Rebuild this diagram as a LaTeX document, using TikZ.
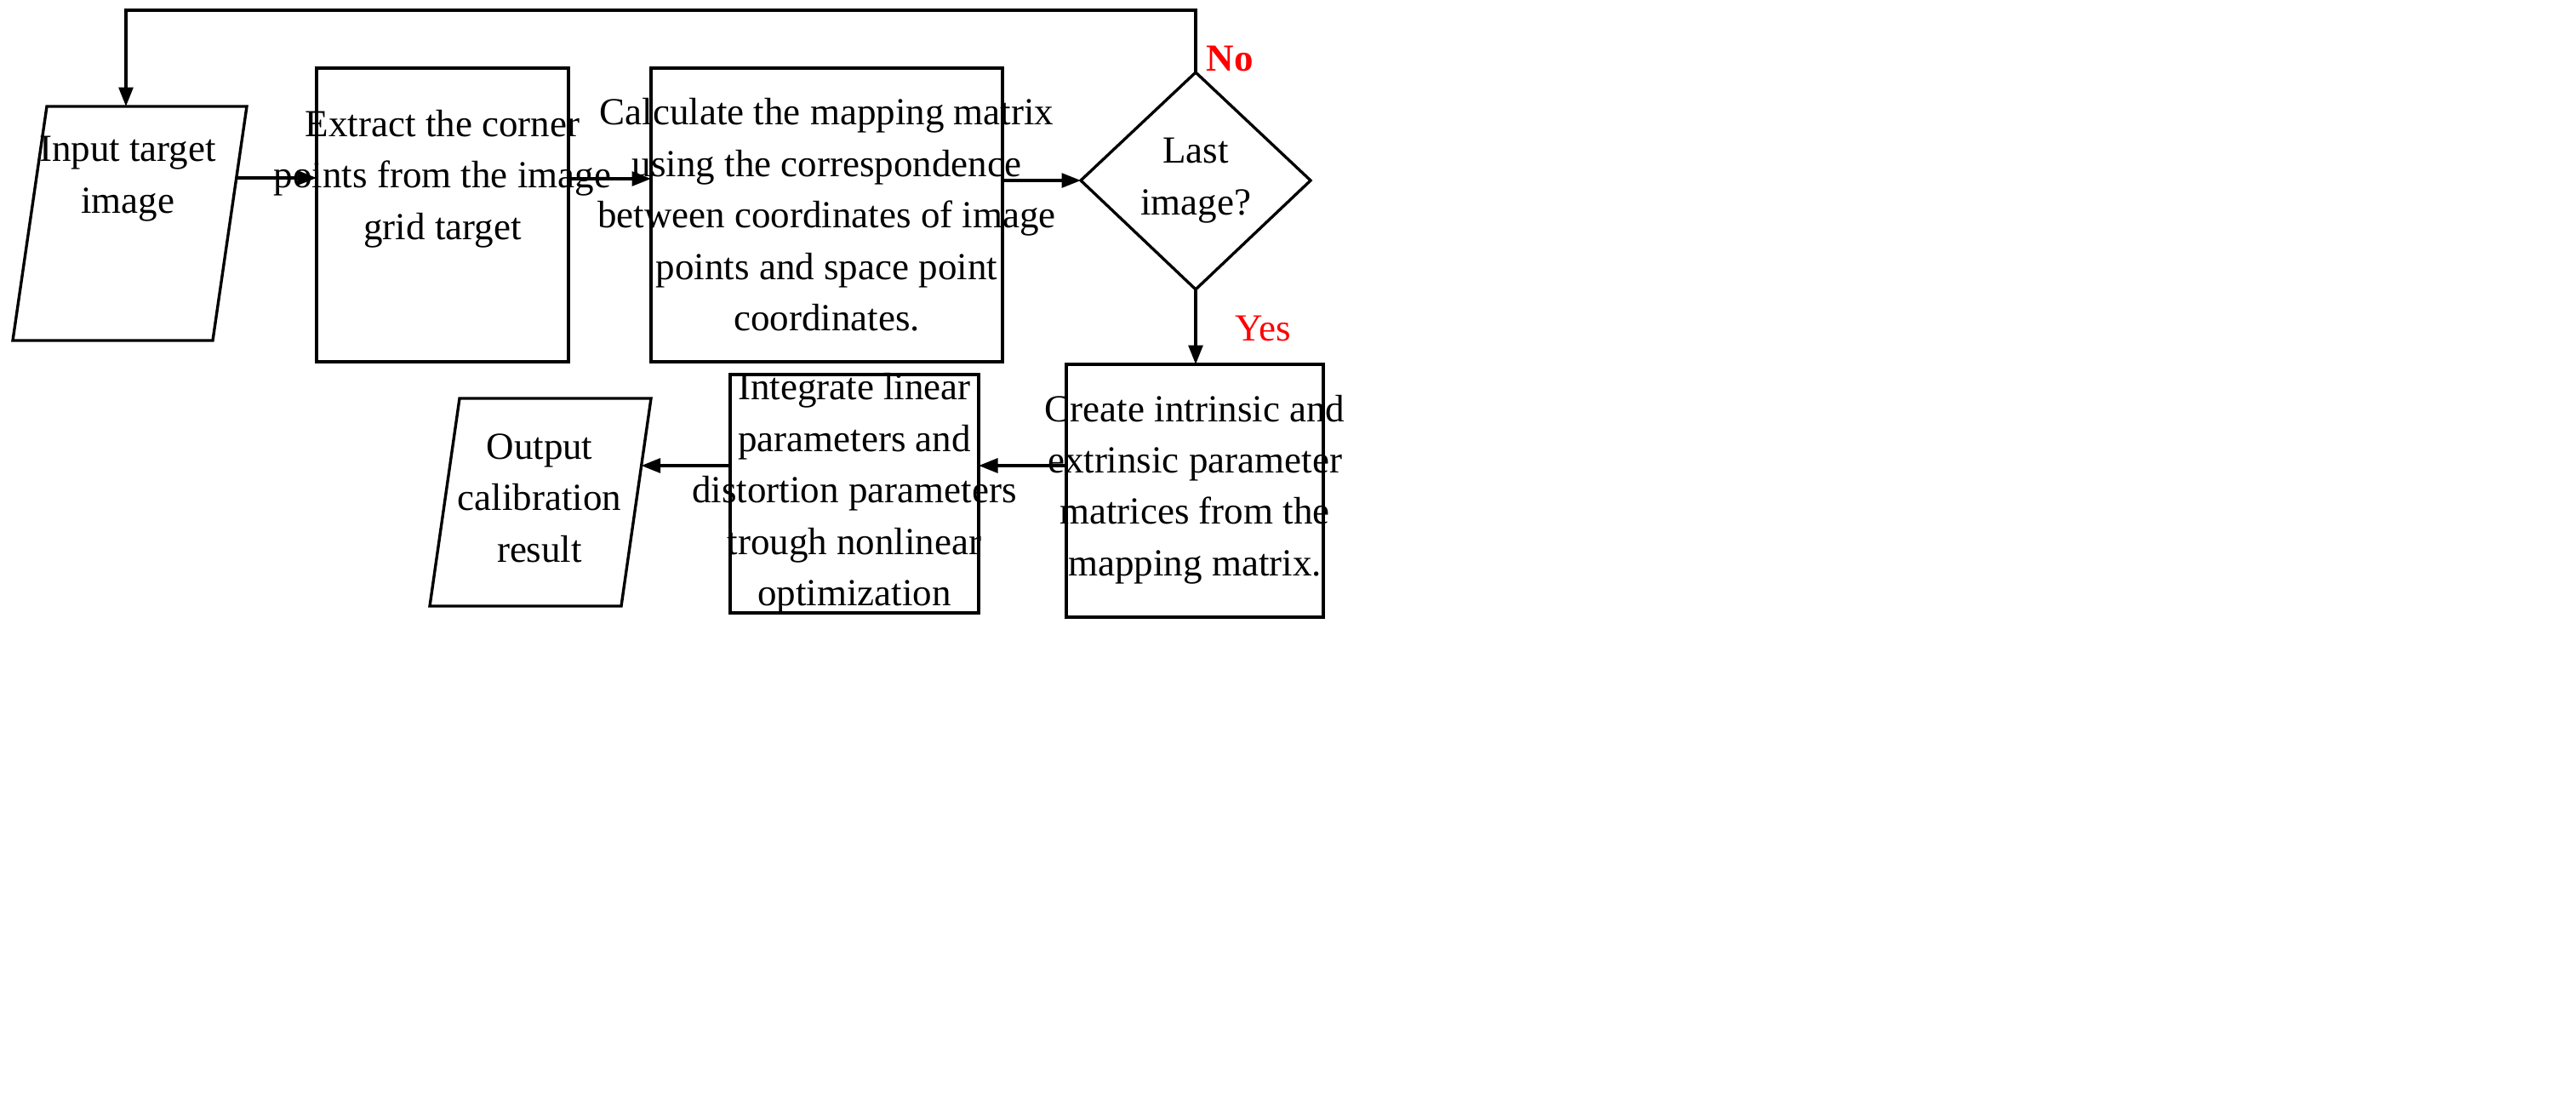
\documentclass[tikz,border=0pt]{standalone}
\usepackage{fontspec}
\setmainfont{Liberation Serif}
\usetikzlibrary{shapes.geometric,arrows.meta}
\begin{document}
\begin{tikzpicture}[x=0.125mm,y=-0.125mm,
  line width=2.4pt,
  txt/.style={font=\fontsize{32}{43}\selectfont,align=center},
  arr/.style={-{Triangle[length=16pt,width=12pt]}},
  lab/.style={font=\fontsize{32}{40}\selectfont\bfseries,text=red}]
\useasboundingbox (0,0) rectangle (6054,2568);
% input parallelogram
\draw (110,250) -- (580,250) -- (500,800) -- (30,800) -- cycle;
\node[txt] (in) at (300,420) {Input target\\image};
\coordinate (inR) at (556,418);
\coordinate (inT) at (296,250);
% boxes
\draw (744,160) rectangle (1336,850);
\node[txt] (b1) at (1040,420) {Extract the corner\\points from the image\\grid target};
\draw (1530,160) rectangle (2356,850);
\node[txt] (b2) at (1943,505) {Calculate the mapping matrix\\using the correspondence\\between coordinates of image\\points and space point\\coordinates.};
% diamond
\draw (2540,424) -- (2810,170) -- (3080,424) -- (2810,680) -- cycle;
\node[txt] (d) at (2810,424) {Last\\image?};
\coordinate (dL) at (2540,424);
\coordinate (dT) at (2810,170);
\coordinate (dB) at (2810,680);
\draw (2506,856) rectangle (3110,1450);
\node[txt] (b3) at (2808,1150) {Create intrinsic and\\extrinsic parameter\\matrices from the\\mapping matrix.};
\draw (1716,880) rectangle (2300,1440);
\node[txt] (b4) at (2008,1160) {Integrate linear\\parameters and\\distortion parameters\\trough nonlinear\\optimization};
% output parallelogram
\draw (1080,936) -- (1530,936) -- (1460,1424) -- (1010,1424) -- cycle;
\node[txt] (out) at (1268,1170) {Output\\calibration\\result};
\coordinate (outR) at (1507,1094);
% connectors
\draw[arr] (inR) -- (744,418);
\draw[arr] (1336,420) -- (1530,420);
\draw[arr] (2356,424) -- (dL);
\draw[arr] (dB) -- (2810,856);
\draw[arr] (2506,1094) -- (2300,1094);
\draw[arr] (1716,1094) -- (outR);
\coordinate (c1) at (2810,24);
\coordinate (c2) at (296,24);
\draw[arr] (dT) -- (c1) -- (c2) -- (inT);
\node[lab] (no) at (2890,138) {No};
\node[lab,font=\fontsize{32}{40}\selectfont] (yes) at (2968,772) {Yes};
\end{tikzpicture}
\end{document}
